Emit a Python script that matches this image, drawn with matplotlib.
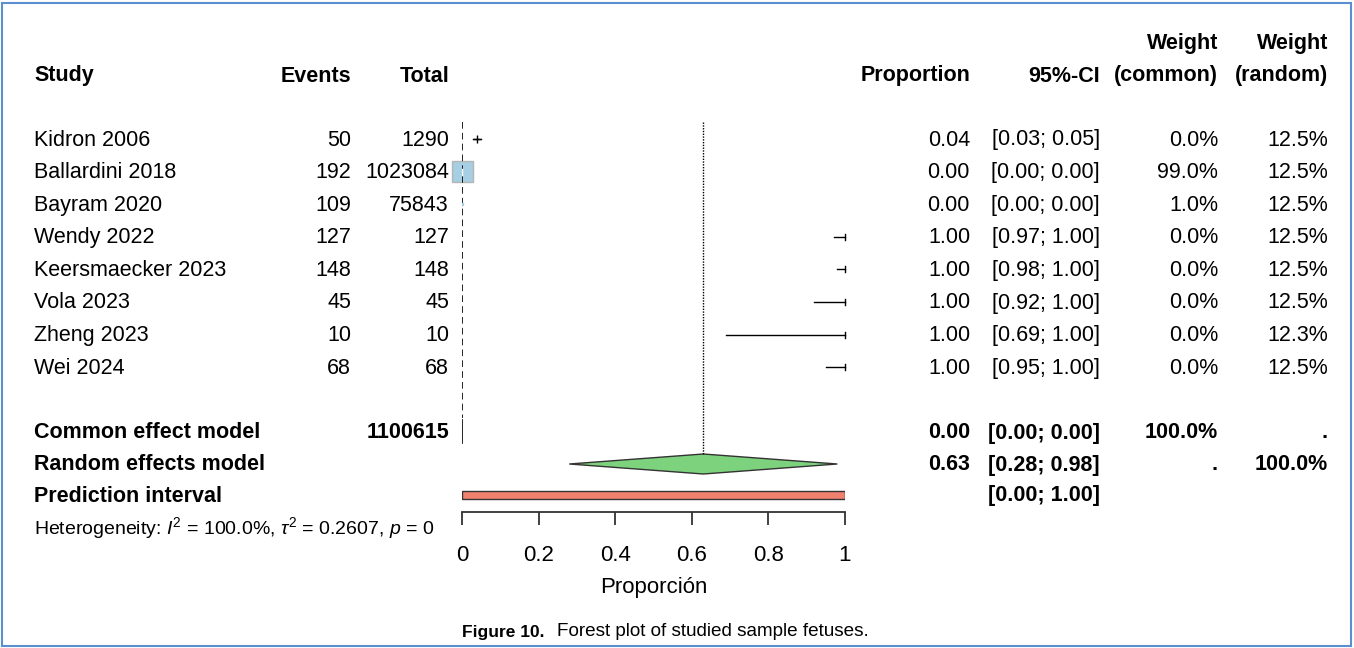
import matplotlib
matplotlib.use("Agg")
import matplotlib.pyplot as plt
from matplotlib.patches import Rectangle, Polygon
from matplotlib.transforms import blended_transform_factory

plt.rcParams['font.family'] = ['Liberation Sans', 'DejaVu Sans']
plt.rcParams['mathtext.fontset'] = 'custom'
plt.rcParams['mathtext.rm'] = 'Liberation Sans'
plt.rcParams['mathtext.it'] = 'Liberation Sans:italic'

studies = ['Kidron 2006', 'Ballardini 2018', 'Bayram 2020', 'Wendy 2022',
           'Keersmaecker 2023', 'Vola 2023', 'Zheng 2023', 'Wei 2024']
events = [50, 192, 109, 127, 148, 45, 10, 68]
totals = [1290, 1023084, 75843, 127, 148, 45, 10, 68]
prop = [0.04, 0.00, 0.00, 1.00, 1.00, 1.00, 1.00, 1.00]
ci_lo = [0.03, 0.00, 0.00, 0.97, 0.98, 0.92, 0.69, 0.95]
ci_hi = [0.05, 0.00, 0.00, 1.00, 1.00, 1.00, 1.00, 1.00]
w_common = ['0.0%', '99.0%', '1.0%', '0.0%', '0.0%', '0.0%', '0.0%', '0.0%']
w_random = ['12.5%', '12.5%', '12.5%', '12.5%', '12.5%', '12.5%', '12.3%', '12.5%']

total_n = 1100615
common_est, common_lo, common_hi = 0.00, 0.00, 0.00
random_est, random_lo, random_hi = 0.63, 0.28, 0.98
pred_lo, pred_hi = 0.00, 1.00

W, H = 1354, 648
fig = plt.figure(figsize=(W / 100, H / 100), dpi=100)

# forest axes: x from 0 to 1 between pixel 462 and 845, y in pixel rows
x0, x1 = 462, 845
axis_y = 512
ax = fig.add_axes([x0 / W, (H - axis_y) / H, (x1 - x0) / W, axis_y / H])
ax.set_xlim(0, 1)
ax.set_ylim(axis_y, 0)
for s in ['top', 'left', 'right']:
    ax.spines[s].set_visible(False)
ax.spines['bottom'].set_linewidth(1.3)
ax.spines['bottom'].set_color('#333333')
ax.set_yticks([])
ax.set_xticks([0, 0.2, 0.4, 0.6, 0.8, 1])
ax.set_xticklabels(['0', '0.2', '0.4', '0.6', '0.8', '1'])
ax.tick_params(axis='x', length=9.5, width=1.3, color='#333333', pad=14.5, labelsize=16)
ax.set_xlabel('Proporción', fontsize=16, labelpad=8)
ax.patch.set_alpha(0)

row_y = [139 + 32.6 * i for i in range(len(studies))]
common_y, random_y, pred_y = 432, 464, 495

# reference lines
ax.plot([common_est, common_est], [122, 418], ls=(0, (4, 2.5)), color='black', lw=1.2)
ax.plot([random_est, random_est], [122, 454], ls=(0, (1, 1)), color='black', lw=1)

# study CIs and squares
for i, y in enumerate(row_y):
    if ci_hi[i] - ci_lo[i] > 0.015:
        ax.plot([ci_lo[i], ci_hi[i]], [y, y], color='black', lw=1, clip_on=False)
        if ci_hi[i] >= 1:
            ax.plot([ci_hi[i], ci_hi[i]], [y - 3, y + 3], color='black', lw=1, clip_on=False)
ax.plot(prop[0], row_y[0], marker='+', color='black', ms=6, mew=1)
ax.add_patch(Rectangle((prop[1] - 0.027, row_y[1] - 10.5), 0.055, 21,
                       facecolor='#a6cfe4', edgecolor='#b5b5b5', lw=1, clip_on=False))
ax.plot([prop[1], prop[1]], [row_y[1] - 3, row_y[1] + 3], color='white', lw=1)
ax.plot(prop[2], row_y[2], marker='s', color='#a6cfe4', ms=1.5)

# common effect (zero width diamond)
ax.plot([common_est, common_est], [common_y - 12, common_y + 11], color='black', lw=1.2)

# random effects diamond
ax.add_patch(Polygon([[random_lo, random_y], [random_est, random_y - 10],
                      [random_hi, random_y], [random_est, random_y + 10]],
                     closed=True, facecolor='#7dd37d', edgecolor='#333333', lw=1))

# prediction interval
ax.add_patch(Rectangle((pred_lo, pred_y - 4), pred_hi - pred_lo, 8,
                       facecolor='#f0816f', edgecolor='#333333', lw=1))

# text columns (x in figure pixels, y in forest rows)
tr = blended_transform_factory(fig.transFigure, ax.transData)
fs = 15.5


def put(x, y, s, ha='left', bold=False):
    ax.text(x / W, y + 1, s, transform=tr, ha=ha, va='center', fontsize=fs,
            fontweight='bold' if bold else 'normal', clip_on=False)


head_y, head2_y = 75, 43
put(34, head_y, 'Study', bold=True)
put(351, head_y, 'Events', 'right', True)
put(449, head_y, 'Total', 'right', True)
put(970, head_y, 'Proportion', 'right', True)
put(1100, head_y, '95%-CI', 'right', True)
put(1218, head2_y, 'Weight', 'right', True)
put(1218, head_y, '(common)', 'right', True)
put(1328, head2_y, 'Weight', 'right', True)
put(1328, head_y, '(random)', 'right', True)

for i, y in enumerate(row_y):
    put(34, y, studies[i])
    put(351, y, str(events[i]), 'right')
    put(449, y, str(totals[i]), 'right')
    put(970, y, f'{prop[i]:.2f}', 'right')
    put(1100, y, f'[{ci_lo[i]:.2f}; {ci_hi[i]:.2f}]', 'right')
    put(1218, y, w_common[i], 'right')
    put(1328, y, w_random[i], 'right')

put(34, common_y, 'Common effect model', bold=True)
put(449, common_y, str(total_n), 'right', True)
put(970, common_y, f'{common_est:.2f}', 'right', True)
put(1100, common_y, f'[{common_lo:.2f}; {common_hi:.2f}]', 'right', True)
put(1218, common_y, '100.0%', 'right', True)
put(1328, common_y, '.', 'right', True)

put(34, random_y, 'Random effects model', bold=True)
put(970, random_y, f'{random_est:.2f}', 'right', True)
put(1100, random_y, f'[{random_lo:.2f}; {random_hi:.2f}]', 'right', True)
put(1218, random_y, '.', 'right', True)
put(1328, random_y, '100.0%', 'right', True)

put(34, pred_y, 'Prediction interval', bold=True)
put(1100, pred_y, f'[{pred_lo:.2f}; {pred_hi:.2f}]', 'right', True)

fig.text(34 / W, 1 - 528 / H, r'Heterogeneity: $\mathit{I}^2$ = 100.0%, $\tau^2$ = 0.2607, $\mathit{p}$ = 0',
         fontsize=14, ha='left', va='center')

# caption
fig.text(544 / W, 1 - 632 / H, 'Figure 10.', fontweight='bold', fontsize=12.5,
         ha='right', va='center')
fig.text(557 / W, 1 - 632 / H, 'Forest plot of studied sample fetuses.',
         fontsize=13.6, ha='left', va='center')

# border
fig.add_artist(Rectangle((2 / W, 2 / H), (W - 5) / W, (H - 5) / H, transform=fig.transFigure,
                         fill=False, edgecolor='#5b8fd0', lw=1.5))

fig.savefig('out.png', dpi=100)
